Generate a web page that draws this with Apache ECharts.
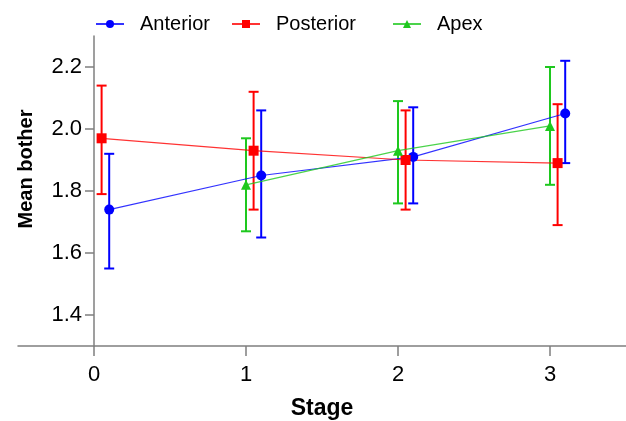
<!DOCTYPE html>
<html>
<head>
<meta charset="utf-8">
<script src="https://cdn.jsdelivr.net/npm/echarts@6/dist/echarts.min.js"></script>
<style>html,body{margin:0;padding:0;background:#fff}#c{width:626px;height:421px}</style>
</head>
<body>
<div id="c"></div>
<script>
// Data
const seriesNames = ['Anterior', 'Posterior', 'Apex'];
const stageTicks = [0, 1, 2, 3];
const yTicks = [1.4, 1.6, 1.8, 2.0, 2.2];

const xAnterior = [0.1, 1.1, 2.1, 3.1];
const meanAnterior = [1.74, 1.85, 1.91, 2.05];
const lowAnterior = [1.55, 1.65, 1.76, 1.89];
const highAnterior = [1.92, 2.06, 2.07, 2.22];

const xPosterior = [0.05, 1.05, 2.05, 3.05];
const meanPosterior = [1.97, 1.93, 1.90, 1.89];
const lowPosterior = [1.79, 1.74, 1.74, 1.69];
const highPosterior = [2.14, 2.12, 2.06, 2.08];

const xApex = [1, 2, 3];
const meanApex = [1.82, 1.93, 2.01];
const lowApex = [1.67, 1.76, 1.82];
const highApex = [1.97, 2.09, 2.20];

const colors = ['#0000ff', '#ff0000', '#1ec81e'];
const symbols = ['circle', 'rect', 'triangle'];
const symbolSizes = [10, 10, 10];

const groups = [
  [xAnterior, meanAnterior, lowAnterior, highAnterior],
  [xPosterior, meanPosterior, lowPosterior, highPosterior],
  [xApex, meanApex, lowApex, highApex]
];

const FONT = 'Liberation Sans, Arial, sans-serif';

function errSeries(i) {
  const g = groups[i];
  const color = colors[i];
  return {
    type: 'custom',
    name: seriesNames[i] + ' error',
    z: 3,
    encode: { x: 0, y: [1, 2] },
    data: g[0].map((x, k) => [x, g[2][k], g[3][k]]),
    renderItem: function (params, api) {
      const x = api.value(0);
      const p1 = api.coord([x, api.value(1)]);
      const p2 = api.coord([x, api.value(2)]);
      const w = 5;
      const st = { stroke: color, lineWidth: 2 };
      return {
        type: 'group',
        children: [
          { type: 'line', shape: { x1: p1[0], y1: p1[1], x2: p2[0], y2: p2[1] }, style: st },
          { type: 'line', shape: { x1: p1[0] - w, y1: p1[1], x2: p1[0] + w, y2: p1[1] }, style: st },
          { type: 'line', shape: { x1: p2[0] - w, y1: p2[1], x2: p2[0] + w, y2: p2[1] }, style: st }
        ]
      };
    }
  };
}

function lineSeries(i) {
  const g = groups[i];
  return {
    type: 'line',
    name: seriesNames[i],
    z: 4,
    data: g[0].map((x, k) => [x, g[1][k]]),
    symbol: symbols[i],
    symbolSize: symbolSizes[i],
    showAllSymbol: true,
    itemStyle: { color: colors[i], opacity: 1 },
    lineStyle: { color: colors[i], width: 1.2, opacity: 0.8 }
  };
}

const legendLefts = [95, 231, 392];
const legends = seriesNames.map((n, i) => ({
  data: [{ name: n }],
  left: legendLefts[i],
  top: 14,
  padding: 0,
  itemWidth: 28,
  itemHeight: 10,
  selectedMode: false,
  textStyle: { fontFamily: FONT, fontSize: 20, color: '#000', padding: [0, 0, 0, 11] }
}));

const chart = echarts.init(document.getElementById('c'));
chart.setOption({
  animation: false,
  backgroundColor: '#fff',
  legend: legends,
  grid: { left: 18, right: 0, top: 36, bottom: 75, containLabel: false, outerBoundsMode: 'none' },
  xAxis: {
    type: 'value',
    min: -0.5,
    max: 3.5,
    name: 'Stage',
    nameLocation: 'middle',
    nameGap: 51,
    nameMoveOverlap: false,
    nameTextStyle: { fontFamily: FONT, fontSize: 23, fontWeight: 'bold', color: '#000' },
    axisLine: { onZero: false, lineStyle: { color: '#7f7f7f', width: 1.5 } },
    axisTick: { show: true, length: 10, customValues: stageTicks, lineStyle: { color: '#7f7f7f', width: 1.5 } },
    axisLabel: { customValues: stageTicks, fontFamily: FONT, fontSize: 22, color: '#000', margin: 18 },
    splitLine: { show: false }
  },
  yAxis: {
    type: 'value',
    min: 1.3,
    max: 2.3,
    offset: -76,
    name: 'Mean bother',
    nameLocation: 'middle',
    nameGap: 58,
    nameMoveOverlap: false,
    nameTextStyle: { fontFamily: FONT, fontSize: 20, fontWeight: 'bold', color: '#000', padding: [0, 0, 0, 44] },
    axisLine: { onZero: false, lineStyle: { color: '#7f7f7f', width: 1.5 } },
    axisTick: { show: true, length: 9, customValues: yTicks, lineStyle: { color: '#7f7f7f', width: 1.5 } },
    axisLabel: {
      customValues: yTicks, fontFamily: FONT, fontSize: 22, color: '#000', margin: 12,
      formatter: v => v.toFixed(1)
    },
    splitLine: { show: false }
  },
  series: [lineSeries(0), lineSeries(1), lineSeries(2), errSeries(0), errSeries(1), errSeries(2)]
});
</script>
</body>
</html>
